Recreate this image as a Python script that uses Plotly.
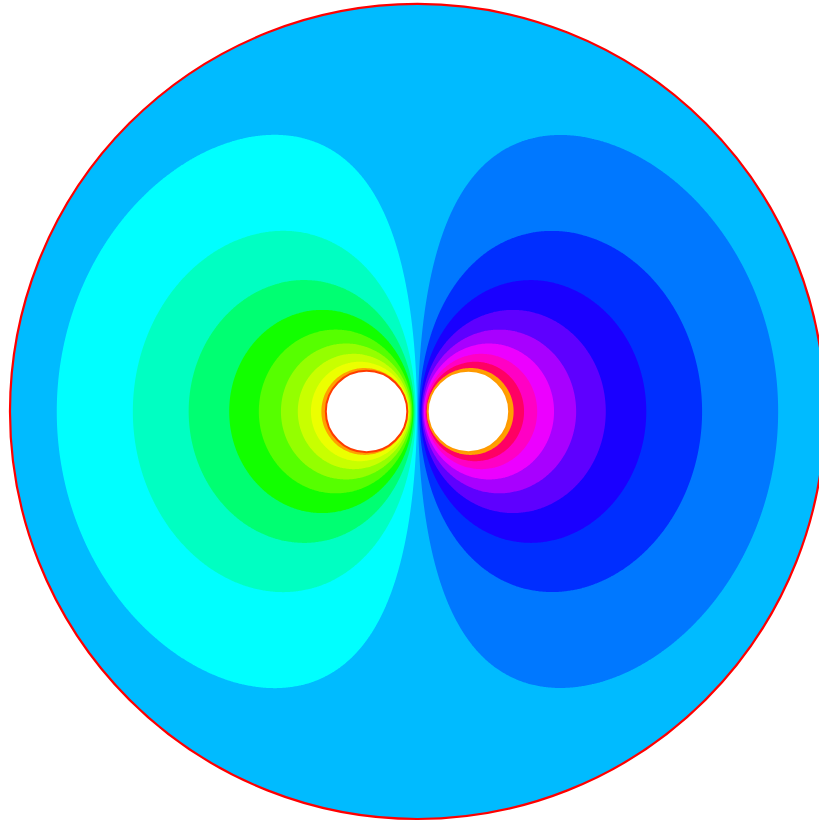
import numpy as np
import plotly.graph_objects as go

# Geometry of the electrode system (cm): grounded outer shell and two cylinders
outer_radius = 4.0
cyl_x = [-0.5, 0.5]
cyl_y = [0.0, 0.0]
cyl_r = [0.4, 0.4]
cyl_v = [1.0, -1.0]
cyl_outline = ["#ff3c00", "#ff9a00"]

# Potential bands (V), one colour per band, from -1 V to +1 V
band_values = [-1.0, -0.889, -0.778, -0.667, -0.556, -0.444, -0.333, -0.222, -0.111,
               0.0, 0.111, 0.222, 0.333, 0.444, 0.556, 0.667, 0.778, 0.889, 1.0]
band_colors = ["#ffa000", "#ff0064", "#ff00c4", "#ec00ff", "#a800ff", "#5e00ff",
               "#1a00ff", "#002eff", "#0078ff", "#00bbff", "#00ffff", "#00ffc2",
               "#00ff72", "#12ff00", "#56ff00", "#94ff00", "#c8ff00", "#ecff00",
               "#ffa000"]

# Range of the view (cm)
x_range = [-4.098, 3.941]
y_range = [-4.049, 4.039]


def green(zc, src, R):
    """Green's function of a grounded disc of radius R (zero on |z| = R)."""
    return np.log(np.abs(zc - src)) - np.log(np.abs(R - zc * np.conj(src) / R))


# Solve for line-charge strengths so each cylinder sits at its potential
sources = []
for cx, cy, r in zip(cyl_x, cyl_y, cyl_r):
    c = cx + 1j * cy
    sources.append(c)
    for ang in np.linspace(0, 2 * np.pi, 10, endpoint=False):
        sources.append(c + 0.6 * r * np.exp(1j * ang))
sources = np.array(sources)

bpts, bval = [], []
for cx, cy, r, v in zip(cyl_x, cyl_y, cyl_r, cyl_v):
    t = np.linspace(0, 2 * np.pi, 160, endpoint=False)
    bpts.append(cx + 1j * cy + r * np.exp(1j * t))
    bval.append(np.full(t.size, v))
bpts = np.concatenate(bpts)
bval = np.concatenate(bval)
A = np.stack([green(bpts, s, outer_radius) for s in sources], axis=1)
q, *_ = np.linalg.lstsq(A, bval, rcond=None)

# Potential on a grid
xs = np.linspace(-4.15, 4.15, 760)
ys = np.linspace(-4.15, 4.15, 760)
X, Y = np.meshgrid(xs, ys)
Z = X + 1j * Y
V = np.zeros_like(X)
for qi, s in zip(q, sources):
    V += qi * green(Z, s, outer_radius)
V = np.clip(np.nan_to_num(V, nan=0.0, posinf=1.5, neginf=-1.5), -1.5, 1.5)

step = band_values[1] - band_values[0]
n = len(band_colors)
colorscale = [[i / (n - 1), c] for i, c in enumerate(band_colors)]

fig = go.Figure(go.Contour(
    x=xs, y=ys, z=V,
    autocontour=False,
    contours=dict(start=band_values[0] + step / 2, end=band_values[-1] - step / 2,
                  size=1 / 9, coloring="fill", showlines=False),
    line=dict(width=0),
    colorscale=colorscale,
    showscale=False,
    hoverinfo="skip",
))

# White surround outside the shell
th = np.linspace(0, 2 * np.pi, 721)
circ = " ".join(("M" if i == 0 else "L") + f"{outer_radius*np.cos(a):.5f},{outer_radius*np.sin(a):.5f}"
                for i, a in enumerate(th))
mask_path = "M-20,-20 L20,-20 L20,20 L-20,20 Z " + circ + " Z"

shapes = [
    dict(type="path", path=mask_path, fillcolor="white", fillrule="evenodd",
         line=dict(width=0), layer="above"),
    dict(type="circle", x0=-outer_radius, y0=-outer_radius, x1=outer_radius, y1=outer_radius,
         line=dict(color="#ff0000", width=2.2), layer="above"),
]
for cx, cy, r, col in zip(cyl_x, cyl_y, cyl_r, cyl_outline):
    shapes.append(dict(type="circle", x0=cx - r, y0=cy - r, x1=cx + r, y1=cy + r,
                       fillcolor="white", line=dict(color=col, width=2), layer="above"))

fig.update_layout(
    width=819, height=824,
    margin=dict(l=0, r=0, t=0, b=0),
    paper_bgcolor="white", plot_bgcolor="white",
    xaxis=dict(range=x_range, visible=False, fixedrange=True),
    yaxis=dict(range=y_range, visible=False, fixedrange=True),
    shapes=shapes,
    showlegend=False,
)

fig.write_html("out.html")
